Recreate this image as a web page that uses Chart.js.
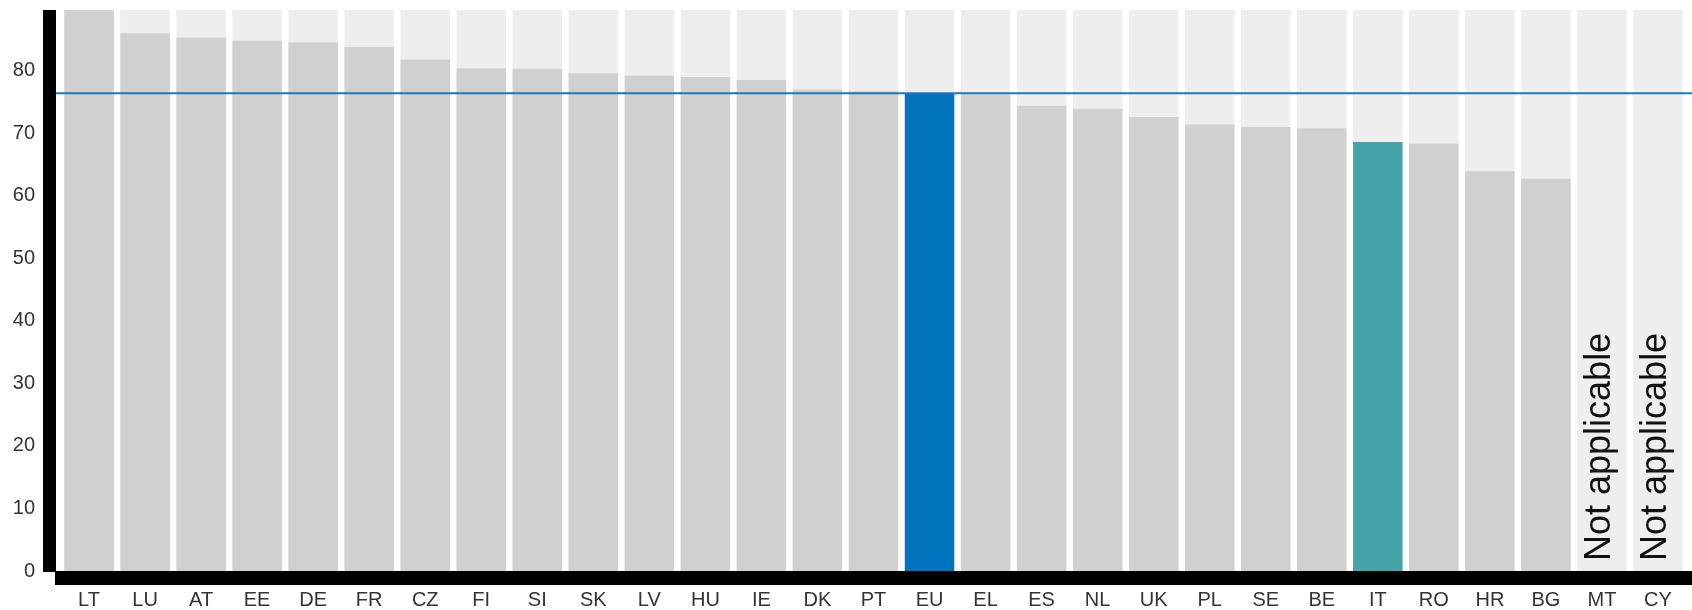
<!DOCTYPE html>
<html>
<head>
<meta charset="utf-8">
<script src="https://cdn.jsdelivr.net/npm/chart.js@4/dist/chart.umd.min.js"></script>
<style>
  html, body { margin: 0; padding: 0; background: #fff; }
  #wrap { width: 1692px; height: 610px; position: relative; }
</style>
</head>
<body>
<div id="wrap"><canvas id="score-graph"></canvas></div>
<script>
// countries, ordered as in the picture
var countries = ['LT','LU','AT','EE','DE','FR','CZ','FI','SI','SK','LV','HU','IE','DK','PT',
                 'EU','EL','ES','NL','UK','PL','SE','BE','IT','RO','HR','BG','MT','CY'];
// scores (null = not applicable)
var scores = [89.7, 86.0, 85.3, 84.8, 84.5, 83.8, 81.8, 80.4, 80.3, 79.6, 79.2, 79.0, 78.5, 77.0, 76.7,
              76.4, 76.2, 74.4, 73.9, 72.6, 71.4, 71.0, 70.8, 68.6, 68.3, 63.9, 62.7, null, null];
var euAverage = 76.4;
var yMax = 89.7;
var yTicks = [0, 10, 20, 30, 40, 50, 60, 70, 80];
var naLabel = 'Not applicable';

var fullRange = countries.map(function () { return yMax; });
var barColors = countries.map(function (c) {
    if (c === 'EU') return '#0074bf';
    if (c === 'IT') return '#47a3aa';
    return '#d0d0d0';
});

var fontFamily = "'Liberation Sans', Arial, sans-serif";

// thick black axes, EU average line and "not applicable" labels
var decor = {
    id: 'decor',
    afterDatasetsDraw: function (chart) {
        var ctx = chart.ctx;
        var area = chart.chartArea;
        var x = chart.scales.x, y = chart.scales.y;

        ctx.save();
        // average line
        var ly = y.getPixelForValue(euAverage);
        ctx.strokeStyle = '#1a78c2';
        ctx.lineWidth = 2;
        ctx.beginPath();
        ctx.moveTo(area.left - 6, ly);
        ctx.lineTo(chart.width, ly);
        ctx.stroke();

        // axes
        ctx.fillStyle = '#000';
        ctx.fillRect(area.left - 18, area.top, 13, area.bottom - area.top + 1);
        ctx.fillRect(area.left - 6, area.bottom, chart.width, 14);

        // not applicable text
        ctx.fillStyle = '#111';
        ctx.font = '36px ' + fontFamily;
        ctx.textAlign = 'left';
        ctx.textBaseline = 'alphabetic';
        scores.forEach(function (v, i) {
            if (v !== null) return;
            var cx = x.getPixelForValue(i);
            ctx.save();
            ctx.translate(cx + 8.5, area.bottom - 10);
            ctx.rotate(-Math.PI / 2);
            ctx.fillText(naLabel, 0, 0);
            ctx.restore();
        });
        ctx.restore();
    }
};

var chartctx = document.getElementById('score-graph');
var scoreChart = new Chart(chartctx, {
    type: 'bar',
    data: {
        labels: countries,
        datasets: [{
            label: 'Score',
            data: scores,
            backgroundColor: barColors,
            borderWidth: 0,
            order: 1
        }, {
            label: 'Range',
            data: fullRange,
            backgroundColor: '#eeeeee',
            borderWidth: 0,
            order: 2
        }]
    },
    options: {
        responsive: true,
        maintainAspectRatio: false,
        animation: false,
        layout: { padding: { top: 10, right: 6, left: 0, bottom: 0 } },
        plugins: { legend: { display: false }, tooltip: { enabled: false } },
        datasets: { bar: { categoryPercentage: 1, barPercentage: 0.883 } },
        scales: {
            x: {
                stacked: true,
                grid: { display: false, drawTicks: false },
                border: { display: false },
                ticks: { color: '#333', padding: 17, font: { size: 20, family: fontFamily } },
                afterFit: function (scale) { scale.height = 39; }
            },
            y: {
                min: 0,
                max: yMax,
                grid: { display: false, drawTicks: false },
                border: { display: false },
                ticks: { stepSize: 10, color: '#333', padding: 26, font: { size: 20, family: fontFamily } },
                afterBuildTicks: function (scale) {
                    scale.ticks = yTicks.map(function (v) { return { value: v }; });
                },
                afterFit: function (scale) {
                    scale.width = 61;
                    scale.paddingTop = 0;
                    scale.paddingBottom = 0;
                }
            }
        }
    },
    plugins: [decor]
});
</script>
</body>
</html>
